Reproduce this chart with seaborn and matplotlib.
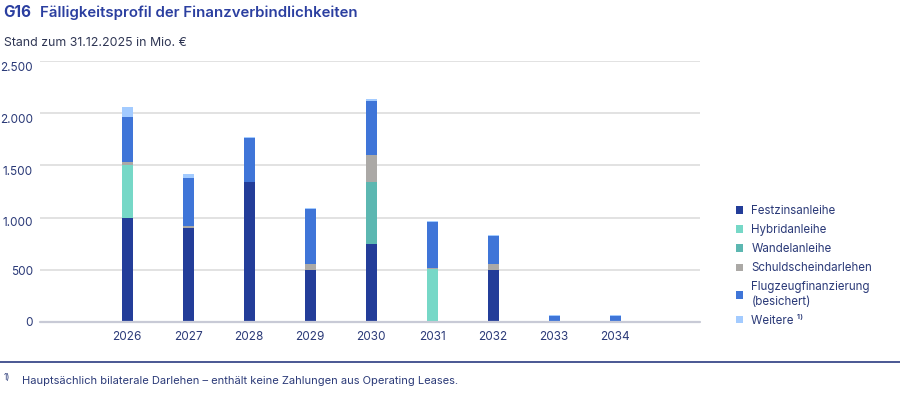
import matplotlib
matplotlib.use("Agg")
import matplotlib.pyplot as plt
import matplotlib.transforms as mtrans
from matplotlib.patches import Patch
import numpy as np
import pandas as pd
import seaborn as sns

years = ["2026", "2027", "2028", "2029", "2030", "2031", "2032", "2033", "2034"]
festzins = [1000, 900, 1345, 500, 750, 0, 500, 0, 0]
hybrid = [500, 0, 0, 0, 0, 505, 0, 0, 0]
wandel = [0, 0, 0, 0, 595, 0, 0, 0, 0]
schuldschein = [30, 15, 0, 55, 250, 15, 60, 0, 0]
flugzeug = [435, 465, 415, 530, 525, 440, 260, 55, 55]
weitere = [90, 40, 12, 8, 13, 12, 12, 15, 15]

series_names = ["Festzinsanleihe", "Hybridanleihe", "Wandelanleihe",
                "Schuldscheindarlehen", "Flugzeugfinanzierung\n(besichert)", "Weitere \u00b9\u207e"]
series_vals = [festzins, hybrid, wandel, schuldschein, flugzeug, weitere]
colors = ["#233d99", "#76d8c7", "#5cb7b1", "#aba9a6", "#3f75d8", "#a3cbff"]

yticks = [0, 500, 1000, 1500, 2000, 2500]
ytick_labels = ["0", "500", "1.000", "1.500", "2.000", "2.500"]

sns.set_theme(style="white")
plt.rcParams["font.family"] = ["Inter", "DejaVu Sans"]

navy = "#2b3a78"
fig = plt.figure(figsize=(9, 3.93), dpi=100)
ax = fig.add_axes([0.0444, 0.1807, 0.7334, 0.6641])

cum = np.zeros(len(years))
cums = []
for v in series_vals:
    cum = cum + np.array(v, dtype=float)
    cums.append(cum.copy())
for i in range(len(series_vals) - 1, -1, -1):
    d = pd.DataFrame({"year": years, "val": cums[i]})
    sns.barplot(data=d, x="year", y="val", color=colors[i], saturation=1,
                width=0.18, errorbar=None, ax=ax, linewidth=0, zorder=3)

ax.set_ylim(0, 2500)
ax.set_xlim(-1.43, 9.39)
ax.set_yticks(yticks)
ax.set_yticklabels(ytick_labels)
ax.set_xlabel("")
ax.set_ylabel("")
for s in ax.spines.values():
    s.set_visible(False)
ax.yaxis.grid(True, color="#dadada", linewidth=1.1, zorder=0)
ax.xaxis.grid(False)
ax.axhline(0, color="#c8cad6", linewidth=1.6, zorder=4, clip_on=False)
ax.tick_params(axis="y", length=0, pad=5, labelsize=8.5, labelcolor=navy)
ax.tick_params(axis="x", length=0, pad=6.5, labelsize=8.5, labelcolor=navy)

# slight downward offset of y tick labels, as in the reference
offsets_px = [0, 1, 4, 5, 5, 6]
for lab, off in zip(ax.get_yticklabels(), offsets_px):
    lab.set_transform(lab.get_transform() +
                      mtrans.ScaledTranslation(0, -off / 100, fig.dpi_scale_trans))

handles = [Patch(facecolor=c, edgecolor="none") for c in colors]
leg = fig.legend(handles, series_names, loc="upper left",
                 bbox_to_anchor=(0.806, 0.505), frameon=False,
                 handlelength=0.6, handleheight=0.6, handletextpad=0.75,
                 labelspacing=0.62, fontsize=8.3)
for t in leg.get_texts():
    t.set_color(navy)
    t.set_linespacing(1.25)

fig.text(0.004, 0.968, "G16", fontsize=11, fontweight="bold", color="#2b3fa0", va="center")
fig.text(0.044, 0.968, "F\u00e4lligkeitsprofil der Finanzverbindlichkeiten", fontsize=10.8,
         fontweight="semibold", color="#2b3fa0", va="center")
fig.text(0.004, 0.891, "Stand zum 31.12.2025 in Mio. \u20ac", fontsize=8.9, color="#2f3654", va="center")

fig.add_artist(plt.Line2D([0, 1], [1 - 362 / 393, 1 - 362 / 393], transform=fig.transFigure,
                          color="#3a4a8a", linewidth=1.3))
fig.text(0.004, 0.040, "1)", fontsize=6, color=navy, va="center")
fig.text(0.024, 0.031, "Haupts\u00e4chlich bilaterale Darlehen \u2013 enth\u00e4lt keine Zahlungen aus Operating Leases.",
         fontsize=8, color=navy, va="center")

fig.savefig("out.png", dpi=100)
